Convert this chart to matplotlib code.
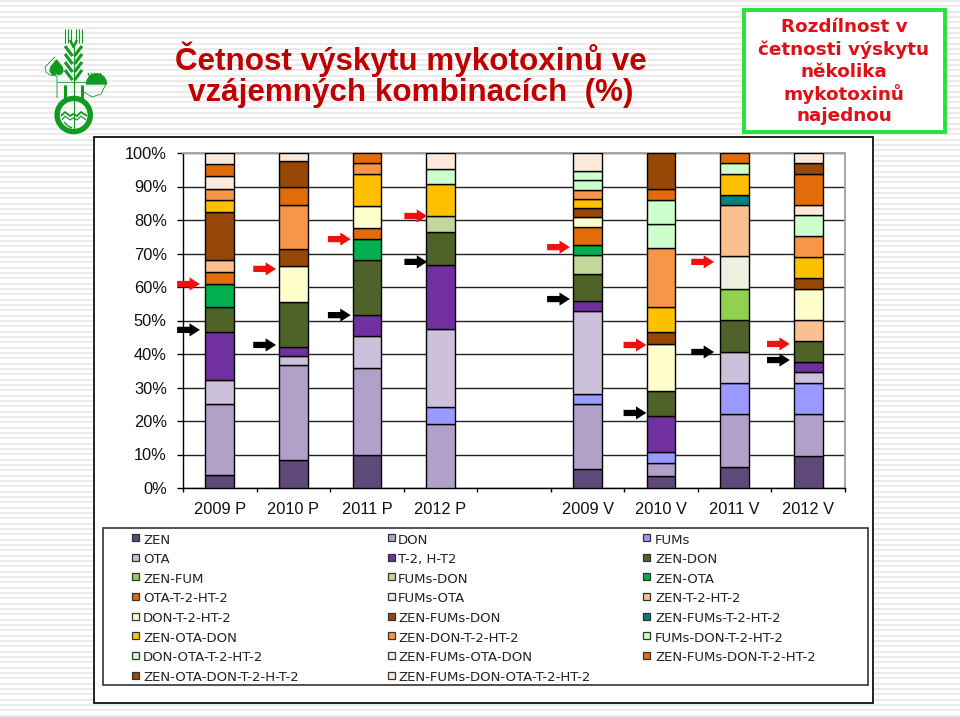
import numpy as np
import matplotlib
matplotlib.use("Agg")
import matplotlib.pyplot as plt
from matplotlib.patches import Polygon, Rectangle, Wedge

W, H = 960, 717

categories = ["2009 P", "2010 P", "2011 P", "2012 P", "", "2009 V", "2010 V", "2011 V", "2012 V"]

# share of each combination in every year (%)
zen = [3.8, 8.3, 9.9, 0, 0, 5.7, 3.7, 6.4, 9.6]
don = [21.4, 28.5, 25.9, 19.2, 0, 19.4, 3.7, 15.7, 12.5]
fums = [0, 0, 0, 4.9, 0, 3.1, 3.2, 9.3, 9.2]
ota = [6.9, 2.7, 9.7, 23.5, 0, 24.5, 0, 9.2, 3.2]
t2 = [14.4, 2.6, 6.2, 19.1, 0, 3.1, 10.8, 0, 3.1]
zen_don = [7.4, 13.3, 16.3, 9.7, 0, 8.2, 7.5, 9.6, 6.2]
zen_fum = [0, 0, 0, 0, 0, 0, 0, 9.3, 0]
fums_don = [0, 0, 0, 4.7, 0, 5.7, 0, 0, 0]
zen_ota = [7.1, 0, 6.3, 0, 0, 2.7, 0, 0, 0]
ota_t2 = [3.6, 0, 3.2, 0, 0, 5.6, 0, 0, 0]
fums_ota = [0, 0, 0, 0, 0, 0, 0, 9.7, 0]
zen_t2 = [3.4, 0, 0, 0, 0, 0, 0, 15.4, 6.3]
don_t2 = [0, 10.8, 6.7, 0, 0, 2.8, 14.2, 0, 9.4]
zen_fums_don = [14.4, 5.1, 0, 0, 0, 2.8, 3.4, 0, 3.2]
zen_fums_t2 = [0, 0, 0, 0, 0, 0, 0, 2.9, 0]
zen_ota_don = [3.6, 0, 9.5, 9.6, 0, 2.8, 7.4, 6.2, 6.3]
zen_don_t2 = [3.3, 13.3, 3.3, 0, 0, 2.7, 17.7, 0, 6.3]
fums_don_t2 = [0, 0, 0, 0, 0, 2.9, 7.1, 3.3, 6.2]
don_ota_t2 = [0, 0, 0, 4.5, 0, 2.6, 7.3, 0, 0]
zen_fums_ota_don = [3.7, 0, 0, 0, 0, 0, 0, 0, 3.1]
zen_fums_don_t2 = [3.8, 5.2, 3.0, 0, 0, 0, 3.3, 3.0, 9.1]
zen_ota_don_t2 = [0, 7.8, 0, 0, 0, 0, 10.7, 0, 3.3]
all_six = [3.2, 2.5, 0, 4.8, 0, 5.5, 0, 0, 3.0]

labels = ["ZEN", "DON", "FUMs", "OTA", "T-2, H-T2", "ZEN-DON", "ZEN-FUM", "FUMs-DON", "ZEN-OTA",
          "OTA-T-2-HT-2", "FUMs-OTA", "ZEN-T-2-HT-2", "DON-T-2-HT-2", "ZEN-FUMs-DON",
          "ZEN-FUMs-T-2-HT-2", "ZEN-OTA-DON", "ZEN-DON-T-2-HT-2", "FUMs-DON-T-2-HT-2",
          "DON-OTA-T-2-HT-2", "ZEN-FUMs-OTA-DON", "ZEN-FUMs-DON-T-2-HT-2",
          "ZEN-OTA-DON-T-2-H-T-2", "ZEN-FUMs-DON-OTA-T-2-HT-2"]
series = [zen, don, fums, ota, t2, zen_don, zen_fum, fums_don, zen_ota, ota_t2, fums_ota, zen_t2,
          don_t2, zen_fums_don, zen_fums_t2, zen_ota_don, zen_don_t2, fums_don_t2, don_ota_t2,
          zen_fums_ota_don, zen_fums_don_t2, zen_ota_don_t2, all_six]
colors = ["#604a7b", "#b1a0c7", "#9999ff", "#ccc0da", "#7030a0", "#4f6228", "#92d050", "#c4d79b",
          "#00b050", "#e26b0a", "#ebf1de", "#fac090", "#ffffcc", "#974706", "#008080", "#ffc000",
          "#f79646", "#ccffcc", "#ccffcc", "#fde9d9", "#e26b0a", "#974706", "#fde9d9"]

# arrows: (bar index, height in %)
red_arrows = [(0, 60.9), (1, 65.4), (2, 74.3), (3, 81.2), (5, 71.9), (6, 42.7), (7, 67.5), (8, 43.0)]
black_arrows = [(0, 47.2), (1, 42.7), (2, 51.6), (3, 67.5), (5, 56.4), (6, 22.4), (7, 40.6), (8, 38.2)]
arrow_tips = [-0.27, -0.235, -0.22, -0.18, 0, -0.24, -0.2, -0.28, -0.25]

fig = plt.figure(figsize=(W / 100, H / 100), dpi=100, facecolor="white")

# slide layer, in pixels
bg = fig.add_axes([0, 0, 1, 1], zorder=0)
bg.set_xlim(0, W)
bg.set_ylim(H, 0)
bg.axis("off")

bg.hlines(np.arange(1, H, 16 / 3), 0, W, color="#e8e8e8", lw=1.2, zorder=0)

# logo
green = "#109a22"
logo = dict(color=green, solid_capstyle="butt", zorder=2)
bg.plot([73.5, 73.5], [45, 133], lw=0.8, **logo)
for x in [65, 68, 71, 76, 79, 82]:
    bg.plot([x, x], [29, 43], lw=0.8, **logo)
bg.plot([70, 73.5, 77], [40, 47, 40], lw=1.8, **logo)
for y in [46, 54, 62, 70]:
    bg.plot([65, 72.5], [y, y + 10], lw=2.2, **logo)
    bg.plot([82, 74.5], [y, y + 10], lw=2.2, **logo)
bg.plot([65, 65], [85, 100], lw=2.2, **logo)
bg.plot([82, 82], [85, 100], lw=2.2, **logo)
bg.add_patch(Wedge((73.7, 115), 18.6, 0, 360, width=4, color=green, zorder=2))
bg.plot([61, 65, 70, 73, 77, 81, 87], [116, 112, 116, 114, 116, 112, 116], lw=1.3, **logo)
bg.plot([62, 65, 70, 73, 77, 81, 86], [120, 116, 120, 118, 120, 116, 120], lw=0.8, **logo)
bg.plot([64, 68, 72], [122, 126, 128], lw=1.0, **logo)
bg.add_patch(Polygon([(56.5, 60), (59, 63), (62, 67), (63, 71), (61, 74), (58, 74.5), (56.5, 73),
                      (55, 74.5), (52, 74), (50, 71), (51, 67), (54, 63)], closed=True, color=green, zorder=2))
bg.plot([55, 45, 46, 50, 57, 57], [57, 67, 72, 75, 76, 98], lw=0.6, **logo)
bg.plot([57, 87], [82, 82], lw=0.6, **logo)
bg.add_patch(Wedge((96.5, 84), 10, 180, 360, color=green, zorder=2))
for x in [88, 91, 94, 97, 100]:
    bg.plot([x, x + 5], [73, 83], lw=1.0, **logo)
bg.plot([84, 92, 101, 106], [92, 97, 94, 84], lw=0.6, **logo)

# titles
bg.text(411, 70, "Četnost výskytu mykotoxinů ve", ha="center", va="baseline", family="Liberation Sans",
        fontweight="bold", fontsize=22.6, color="#c00000")
bg.text(411, 101, "vzájemných kombinacích  (%)", ha="center", va="baseline", family="Liberation Sans",
        fontweight="bold", fontsize=22.6, color="#c00000")

bg.add_patch(Rectangle((744, 10), 201, 122, fc="white", ec="#22e53a", lw=2.8, zorder=2))
box_lines = ["Rozdílnost v", "četnosti výskytu", "několika", "mykotoxinů", "najednou"]
for i, line in enumerate(box_lines):
    bg.text(844, 27 + i * 22.3, line, ha="center", va="center", family="DejaVu Sans", fontweight="bold",
            fontsize=13.2, color="#e01018", zorder=3)

# chart and legend frames
bg.add_patch(Rectangle((94, 137), 779, 566, fc="white", ec="#222222", lw=1.4, zorder=2))
bg.add_patch(Rectangle((103, 528), 765, 157, fc="white", ec="#333333", lw=1.2, zorder=3))

ax = fig.add_axes([183 / W, 1 - 488 / H, 662 / W, 335 / H], zorder=1)
ax.set_facecolor("none")

x = np.arange(len(categories))
bottom = np.zeros(len(categories))
for vals, color, label in zip(series, colors, labels):
    vals = np.array(vals, dtype=float)
    keep = vals > 0
    ax.bar(x[keep], vals[keep], width=0.39, bottom=bottom[keep], color=color, edgecolor="black",
           linewidth=1.0, label=label, zorder=3)
    bottom += vals

for arrows, color in [(red_arrows, "#f01010"), (black_arrows, "black")]:
    for i, y in arrows:
        tip = i + arrow_tips[i]
        ax.annotate("", xy=(tip, y), xytext=(tip - 0.31, y), annotation_clip=False, zorder=4,
                    arrowprops=dict(arrowstyle="simple,head_length=0.75,head_width=0.95,tail_width=0.45",
                                    mutation_scale=10, color=color, lw=0, shrinkA=0, shrinkB=0))

ax.set_xlim(-0.5, len(categories) - 0.5)
ax.set_ylim(0, 100)
ax.set_yticks(np.arange(0, 101, 10))
ax.set_yticklabels([f"{v}%" for v in range(0, 101, 10)])
ax.set_xticks(np.arange(-0.5, len(categories), 1))
ax.set_xticklabels([])
ax.set_xticks(x, categories, minor=True)
ax.grid(axis="y", color="#222222", lw=1.0, zorder=1)
ax.set_axisbelow(True)
ax.tick_params(axis="y", length=4.5, width=1, pad=7.2, color="black",
               labelsize=11.8, labelfontfamily="Liberation Sans", labelcolor="#111111")
ax.tick_params(axis="x", which="major", length=3, width=1, color="black")
ax.tick_params(axis="x", which="minor", length=0, pad=10,
               labelsize=11.8, labelfontfamily="Liberation Sans", labelcolor="#111111")
for side in ["top", "right"]:
    ax.spines[side].set_color("#a6a6a6")
    ax.spines[side].set_linewidth(1.4)
for side in ["left", "bottom"]:
    ax.spines[side].set_color("black")
    ax.spines[side].set_linewidth(1.0)

# legend, filled row by row as in the original
swatch_x = [132, 388, 643]
text_x = [143, 398, 655]
for i, (label, color) in enumerate(zip(labels, colors)):
    col, row = i % 3, i // 3
    y = 540 + row * 19.65
    bg.add_patch(Rectangle((swatch_x[col], y - 6), 7, 7, fc=color, ec="#333333", lw=0.9, zorder=4))
    bg.text(text_x[col], y, label, ha="left", va="center", fontsize=9.5, color="#222222",
            family="DejaVu Sans", zorder=4)

fig.savefig("out.png", dpi=100)
